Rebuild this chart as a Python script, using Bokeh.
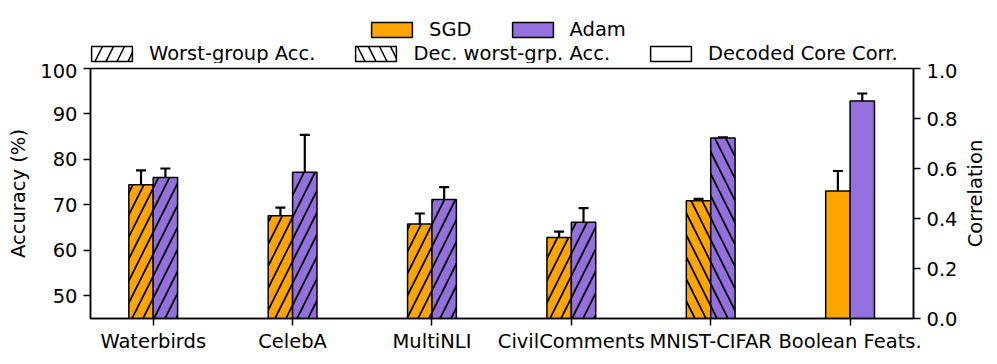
from bokeh.plotting import figure
from bokeh.layouts import column, row
from bokeh.models import (Range1d, LinearAxis, FixedTicker, Legend, LegendItem, Title,
                          ColumnDataSource, Whisker, TeeHead, PrintfTickFormatter)
from bokeh.embed import file_html
from bokeh.resources import INLINE

# ---------------- data ----------------
categories = ["Waterbirds", "CelebA", "MultiNLI", "CivilComments", "MNIST-CIFAR", "Boolean Feats."]
acc_categories = ["Waterbirds", "CelebA", "MultiNLI", "CivilComments", "MNIST-CIFAR"]
sgd_acc = [74.4, 67.6, 65.8, 62.8, 70.9]
sgd_acc_err = [3.2, 1.8, 2.3, 1.3, 0.4]
adam_acc = [76.0, 77.2, 71.2, 66.2, 84.7]
adam_acc_err = [2.0, 8.2, 2.7, 3.1, 0.15]
acc_hatch = ["/", "/", "/", "/", "\\"]
corr_categories = ["Boolean Feats."]
sgd_corr = [0.51]
sgd_corr_err = [0.08]
adam_corr = [0.87]
adam_corr_err = [0.03]

acc_ticks = [50, 60, 70, 80, 90, 100]
corr_ticks = [0.0, 0.2, 0.4, 0.6, 0.8, 1.0]

SGD_COLOR = "#FFA500"
ADAM_COLOR = "#9370DB"
FONT = "DejaVu Sans"
FS = "19.5px"
BAR_W = 0.175
NAN = float("nan")
FRAME_W, FRAME_H = 823, 250
B_LEFT, B_RIGHT = 90, 45
B_TOP, B_BOTTOM = 5, 40
LEG_H = 63

idx = {c: i for i, c in enumerate(categories)}

p = figure(frame_width=FRAME_W, frame_height=FRAME_H, output_backend="svg", toolbar_location=None,
           x_range=Range1d(-0.45, 5.455), y_range=Range1d(45, 100),
           min_border_left=B_LEFT, min_border_right=B_RIGHT,
           min_border_top=B_TOP, min_border_bottom=B_BOTTOM)
p.extra_y_ranges = {"corr": Range1d(0, 1)}
p.xgrid.visible = False
p.ygrid.visible = False
p.outline_line_color = "black"
p.outline_line_width = 1.5
p.background_fill_color = "white"
p.border_fill_color = "white"

def src(cats, vals, errs, offset, hatch=None):
    d = dict(x=[idx[c] + offset for c in cats], top=vals,
             upper=[v + e for v, e in zip(vals, errs)],
             lower=[v - e for v, e in zip(vals, errs)])
    if hatch is not None:
        d["hatch"] = hatch
    return ColumnDataSource(d)

s_sgd = src(acc_categories, sgd_acc, sgd_acc_err, -BAR_W / 2, acc_hatch)
s_adam = src(acc_categories, adam_acc, adam_acc_err, BAR_W / 2, acc_hatch)
s_sgd_c = src(corr_categories, sgd_corr, sgd_corr_err, -BAR_W / 2)
s_adam_c = src(corr_categories, adam_corr, adam_corr_err, BAR_W / 2)

bar_kw = dict(width=BAR_W, bottom=0, line_color="black", line_width=1.5)
hatch_kw = dict(hatch_pattern="hatch", hatch_color="black", hatch_weight=1.8, hatch_scale=22)

p.vbar(x="x", top="top", source=s_sgd, fill_color=SGD_COLOR, **bar_kw, **hatch_kw)
p.vbar(x="x", top="top", source=s_adam, fill_color=ADAM_COLOR, **bar_kw, **hatch_kw)
p.vbar(x="x", top="top", source=s_sgd_c, fill_color=SGD_COLOR, y_range_name="corr", **bar_kw)
p.vbar(x="x", top="top", source=s_adam_c, fill_color=ADAM_COLOR, y_range_name="corr", **bar_kw)

for s, rn in [(s_sgd, "default"), (s_adam, "default"), (s_sgd_c, "corr"), (s_adam_c, "corr")]:
    w = Whisker(base="x", upper="upper", lower="lower", source=s, dimension="height",
                line_color="black", line_width=2.2, y_range_name=rn,
                upper_head=TeeHead(size=10, line_width=2.2, line_color="black"),
                lower_head=TeeHead(size=10, line_width=2.2, line_color="black"))
    p.add_layout(w)

# ---------------- axes ----------------
def style_axis(ax):
    ax.axis_line_width = 1.5
    ax.axis_line_color = "black"
    ax.major_tick_line_width = 1.5
    ax.major_tick_out = 7
    ax.major_tick_in = 0
    ax.minor_tick_line_color = None
    ax.major_label_text_font = FONT
    ax.major_label_text_font_size = FS
    ax.major_label_text_color = "black"
    ax.axis_label_text_font = FONT
    ax.axis_label_text_font_size = FS
    ax.axis_label_text_font_style = "normal"
    ax.axis_label_text_color = "black"
    ax.major_label_standoff = 6
    ax.axis_label_standoff = 7

xax = p.xaxis[0]
xax.ticker = FixedTicker(ticks=list(range(len(categories))))
xax.major_label_overrides = {i: c for i, c in enumerate(categories)}
style_axis(xax)
xax.major_label_standoff = 4

yax = p.yaxis[0]
yax.ticker = FixedTicker(ticks=acc_ticks)
yax.axis_label = "Accuracy (%)"
style_axis(yax)

rax = LinearAxis(y_range_name="corr", ticker=FixedTicker(ticks=corr_ticks),
                 formatter=PrintfTickFormatter(format="%.1f"))
style_axis(rax)
p.add_layout(rax, "right")

# ---------------- right-hand label strip (reads bottom-to-top, centred) ----------------
tf = figure(frame_width=2, frame_height=FRAME_H, output_backend="svg", toolbar_location=None,
            x_axis_location=None, y_axis_location=None,
            min_border_left=0, min_border_right=0, min_border_top=B_TOP, min_border_bottom=B_BOTTOM,
            x_range=Range1d(0, 1), y_range=Range1d(0, 1))
tf.xgrid.visible = False
tf.ygrid.visible = False
tf.outline_line_color = None
tf.background_fill_color = "white"
tf.border_fill_color = "white"
tf.add_layout(Title(text="Correlation", align="center", text_font=FONT, text_font_size=FS,
                    text_font_style="normal", text_color="black", standoff=2, offset=0), "left")

# ---------------- legend strip (separate figure above) ----------------
lf = figure(width=993, height=LEG_H, output_backend="svg",
            toolbar_location=None, x_axis_location=None, y_axis_location=None,
            min_border_left=B_LEFT, min_border_right=80, min_border_top=0, min_border_bottom=0,
            x_range=Range1d(0, 1), y_range=Range1d(0, 1))
lf.xgrid.visible = False
lf.ygrid.visible = False
lf.outline_line_color = None
lf.background_fill_color = "white"
lf.border_fill_color = "white"

leg_kw = dict(fill_color="white", line_color="black", line_width=1.5)
r_sgd = lf.vbar(x=[NAN], top=[NAN], width=0.1, fill_color=SGD_COLOR, line_color="black", line_width=1.5)
r_adam = lf.vbar(x=[NAN], top=[NAN], width=0.1, fill_color=ADAM_COLOR, line_color="black", line_width=1.5)
r_wg = lf.vbar(x=[NAN], top=[NAN], width=0.1, hatch_pattern="/", hatch_color="black",
               hatch_weight=1.5, hatch_scale=22, **leg_kw)
r_dwg = lf.vbar(x=[NAN], top=[NAN], width=0.1, hatch_pattern="\\", hatch_color="black",
                hatch_weight=1.5, hatch_scale=22, **leg_kw)
r_core = lf.vbar(x=[NAN], top=[NAN], width=0.1, **leg_kw)

def make_legend(items, loc):
    return Legend(items=items, orientation="horizontal", location=loc,
                  glyph_width=51, glyph_height=19, label_standoff=12, spacing=35,
                  padding=0, margin=0, border_line_color=None, background_fill_alpha=0,
                  label_text_font=FONT, label_text_font_size=FS, label_text_color="black")

leg2 = make_legend([LegendItem(label="Worst-group Acc.", renderers=[r_wg]),
                    LegendItem(label="Dec. worst-grp. Acc.", renderers=[r_dwg]),
                    LegendItem(label="Decoded Core Corr.", renderers=[r_core])], (-4, -1.5))
leg1 = make_legend([LegendItem(label="SGD", renderers=[r_sgd]),
                    LegendItem(label="Adam", renderers=[r_adam])], (276, 22.5))
lf.add_layout(leg2)
lf.add_layout(leg1)

layout = column(lf, row(p, tf, spacing=0), spacing=0)
open("out.html", "w").write(file_html(layout, INLINE))
